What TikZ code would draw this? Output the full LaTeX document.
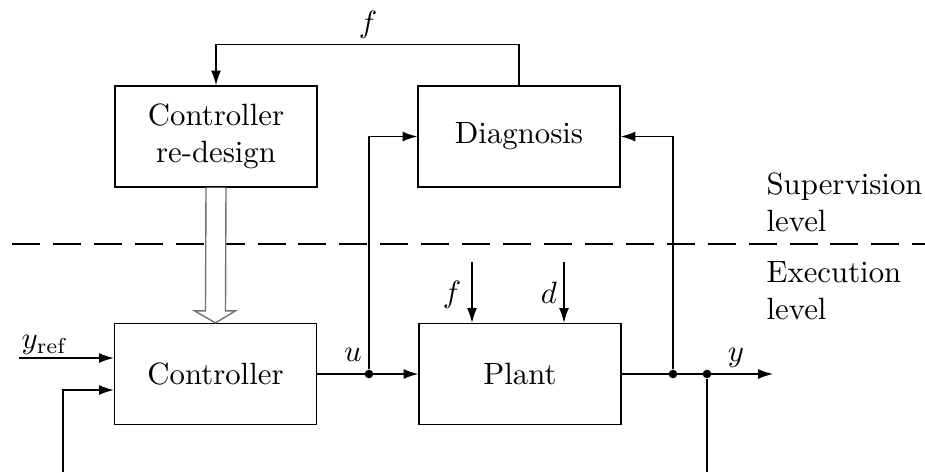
\documentclass[tikz,border=0pt]{standalone}
\usetikzlibrary{arrows.meta,calc}
\begin{document}
\begin{tikzpicture}[x=0.325pt,y=-0.325pt,
  blk/.style={draw,line width=0.45pt,minimum width=65.6pt,minimum height=32.8pt,inner sep=0pt,align=center},
  sig/.style={line width=0.45pt,-{Latex[length=4.8pt,width=3.2pt]}},
  ln/.style={line width=0.45pt},
  dot/.style={circle,fill,inner sep=0pt,minimum size=2.8pt},
  lbl/.style={inner sep=0pt},
  dbl/.style={draw=black!55,line width=0.45pt,fill=white}]
\useasboundingbox (0,0) rectangle (925,472);
% blocks
\node[blk] (red) at (216,136.5) {Controller\\re-design};
\node[blk] (diag) at (519,136.5) {Diagnosis};
\node[blk] (ctrl) at (215.5,374) {Controller};
\node[blk] (plant) at (520,374) {Plant};
% level separator
\draw[line width=0.85pt,dash pattern=on 9.1pt off 4.2pt,dash phase=9.4pt] (0,244) -- (925,244);
\node[lbl,anchor=west,align=left] (sup) at (766,202) {Supervision\\level};
\node[lbl,anchor=west,align=left] (exe) at (766,291) {Execution\\level};
% junctions
\node[dot] (udot) at (369,374) {};
\node[dot] (d1) at (673,374) {};
\node[dot] (d2) at (707,374) {};
\coordinate (yend) at (773,374);
\coordinate (yref) at (19,358);
\coordinate (fbk) at (63,472);
\coordinate (fbot) at (707,472);
\coordinate (fin) at (472,262);
\coordinate (din) at (564,262);
% top f loop
\draw[sig] (diag.north) -- ++(0,-41) -| (red.north);
\node[lbl] (ftop) at (368,25) {$f$};
% double arrow (re-design -> controller)
\path[dbl] ($(red.south)+(-10,0)$) -- ($(ctrl.north)+(-10,-12)$) -- ($(ctrl.north)+(-21,-12)$)
  -- (ctrl.north) -- ($(ctrl.north)+(20,-12)$) -- ($(ctrl.north)+(10,-12)$) -- ($(red.south)+(10,0)$);
% signals
\draw[sig] (yref) -- (ctrl.west |- yref);
\node[lbl] (yreflbl) at (45,345) {$y_{\mathrm{ref}}$};
\draw[sig] (fbk) |- ($(ctrl.west)+(0,16)$);
\draw[sig] (ctrl) -- (plant);
\node[lbl] (ulbl) at (353,355) {$u$};
\draw[sig] (udot) |- (diag.west);
\draw[sig] (plant) -- (yend);
\node[lbl] (ylbl) at (736,358) {$y$};
\draw[sig] (d1) |- (diag.east);
\draw[ln] (d2) -- (fbot);
\draw[sig] (fin) -- (fin |- plant.north);
\node[lbl] (flbl) at (452,295) {$f$};
\draw[sig] (din) -- (din |- plant.north);
\node[lbl] (dlbl) at (549,293) {$d$};
\end{tikzpicture}
\end{document}
